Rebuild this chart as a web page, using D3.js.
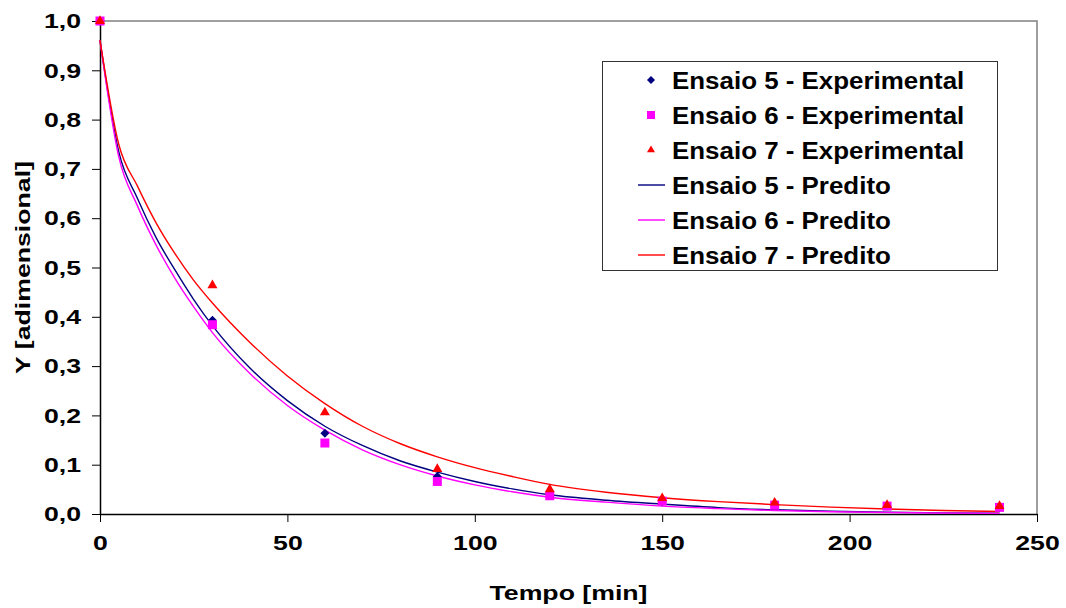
<!DOCTYPE html>
<html>
<head>
<meta charset="utf-8">
<script src="https://cdn.jsdelivr.net/npm/d3@7"></script>
<style>
  body { margin: 0; background: #fff; }
  text { font-family: "Liberation Sans", Arial, sans-serif; font-weight: bold; }
</style>
</head>
<body>
<div id="chart"></div>
<script>
// experimental points
const tempoExp = [0, 30, 60, 90, 120, 150, 180, 210, 240]
const ensaio5Exp = [1.0, 0.393, 0.164, 0.076, 0.040, 0.025, 0.019, 0.016, 0.013]
const ensaio6Exp = [1.0, 0.384, 0.144, 0.066, 0.037, 0.026, 0.018, 0.016, 0.0135]
const ensaio7Exp = [1.0, 0.464, 0.206, 0.091, 0.050, 0.032, 0.023, 0.018, 0.016]

// predicted curves
const tempoPred = [0, 5, 10, 15, 20, 25, 30, 40, 50, 60, 70, 80, 90, 100, 110, 120, 135, 150, 165, 180, 195, 210, 225, 240]
const ensaio5Pred = [0.961, 0.735, 0.640, 0.560, 0.495, 0.435, 0.382, 0.296, 0.230, 0.178, 0.139, 0.108, 0.085, 0.066, 0.051, 0.039, 0.028, 0.020, 0.013, 0.0085, 0.0055, 0.0035, 0.0022, 0.0015]
const ensaio6Pred = [0.961, 0.725, 0.625, 0.545, 0.478, 0.420, 0.368, 0.285, 0.220, 0.170, 0.130, 0.100, 0.077, 0.059, 0.045, 0.034, 0.024, 0.016, 0.011, 0.007, 0.0045, 0.003, 0.002, 0.0012]
const ensaio7Pred = [0.961, 0.750, 0.665, 0.590, 0.528, 0.474, 0.428, 0.348, 0.280, 0.224, 0.178, 0.143, 0.116, 0.094, 0.076, 0.060, 0.044, 0.033, 0.025, 0.019, 0.014, 0.010, 0.007, 0.005]

const xTicks = [0, 50, 100, 150, 200, 250]
const yTicks = [0, 0.1, 0.2, 0.3, 0.4, 0.5, 0.6, 0.7, 0.8, 0.9, 1.0]

const width = 1066
const height = 608
const margin = { top: 21, right: 29, bottom: 94, left: 100 }
const stretch = 1.27

const svg = d3.select('#chart').append('svg').attr('width', width).attr('height', height)

const x = d3.scaleLinear().domain([0, 250]).range([margin.left, width - margin.right])
const y = d3.scaleLinear().domain([0, 1]).range([height - margin.bottom, margin.top])

const locale = d3.formatLocale({ decimal: ',', thousands: '.', grouping: [3], currency: ['', ''] })
const fmt = locale.format('.1f')

// plot area border (top/right)
svg.append('path')
  .attr('d', `M${x(0)},${y(1)}H${x(250)}V${y(0)}`)
  .attr('fill', 'none')
  .attr('stroke', '#808080')
  .attr('stroke-width', 1.5)

const yAxis = svg.append('g')
  .attr('transform', `translate(${x(0)},0)`)
  .call(d3.axisLeft(y).tickValues(yTicks).tickFormat(fmt).tickSize(8).tickSizeOuter(0))
yAxis.select('.domain').attr('stroke', '#000').attr('stroke-width', 1.5)
yAxis.selectAll('.tick line').attr('stroke', '#000').attr('stroke-width', 1)
yAxis.selectAll('.tick text')
  .attr('x', 0)
  .attr('transform', `translate(-19,0) scale(${stretch},1)`)
  .attr('font-size', 21)
  .attr('fill', '#000')

const xAxis = svg.append('g')
  .attr('transform', `translate(0,${y(0)})`)
  .call(d3.axisBottom(x).tickValues(xTicks).tickFormat(d3.format('d')).tickSize(8).tickSizeOuter(0))
xAxis.select('.domain').attr('stroke', '#000').attr('stroke-width', 1.5)
xAxis.selectAll('.tick line').attr('stroke', '#000').attr('stroke-width', 1)
xAxis.selectAll('.tick text')
  .attr('y', 21)
  .attr('transform', `scale(${stretch},1)`)
  .attr('font-size', 21)
  .attr('fill', '#000')

// axis titles
svg.append('text')
  .attr('transform', `translate(${(x(0) + x(250)) / 2},${600}) scale(${stretch},1)`)
  .attr('text-anchor', 'middle')
  .attr('font-size', 21)
  .text('Tempo [min]')

svg.append('text')
  .attr('transform', `translate(30,${(y(0) + y(1)) / 2}) rotate(-90) scale(${stretch},1)`)
  .attr('text-anchor', 'middle')
  .attr('font-size', 21)
  .text('Y [adimensional]')

const series = [
  { name: 'Ensaio 5', exp: ensaio5Exp, pred: ensaio5Pred, color: '#000080', symbol: d3.symbolDiamond2 },
  { name: 'Ensaio 6', exp: ensaio6Exp, pred: ensaio6Pred, color: '#FF00FF', symbol: d3.symbolSquare2 },
  { name: 'Ensaio 7', exp: ensaio7Exp, pred: ensaio7Pred, color: '#FF0000', symbol: d3.symbolTriangle2 }
]

const line = d3.line().x((d) => x(d[0])).y((d) => y(d[1])).curve(d3.curveMonotoneX)

// predicted lines
series.forEach((s) => {
  svg.append('path')
    .datum(tempoPred.map((t, i) => [t, s.pred[i]]))
    .attr('fill', 'none')
    .attr('stroke', s.color)
    .attr('stroke-width', 1.4)
    .attr('d', line)
})

// marker of a given pixel width
const sym = d3.symbol()
function symPath(s, w) {
  const k = s.symbol === d3.symbolDiamond2 ? 1.2525 : s.symbol === d3.symbolSquare2 ? 0.886 : 1.182
  return sym.type(s.symbol).size((w / k) * (w / k))()
}
const markerW = { 'Ensaio 5': 9, 'Ensaio 6': 9, 'Ensaio 7': 10 }

// experimental markers
series.forEach((s) => {
  svg.append('g')
    .selectAll('path')
    .data(tempoExp.map((t, i) => [t, s.exp[i]]))
    .join('path')
    .attr('transform', (d) => `translate(${x(d[0])},${y(d[1])})`)
    .attr('d', symPath(s, markerW[s.name]))
    .attr('fill', s.color)
})

// legend
const legend = svg.append('g')
legend.append('rect')
  .attr('x', 602.5).attr('y', 61.5)
  .attr('width', 395).attr('height', 209)
  .attr('fill', '#fff')
  .attr('stroke', '#333')
  .attr('stroke-width', 1)

const legendItems = [
  ...series.map((s) => ({ label: `${s.name} - Experimental`, s, kind: 'marker' })),
  ...series.map((s) => ({ label: `${s.name} - Predito`, s, kind: 'line' }))
]
const rowY = d3.scaleLinear().domain([0, 5]).range([80, 255])

legendItems.forEach((it, i) => {
  const cy = rowY(i)
  if (it.kind === 'marker') {
    legend.append('path')
      .attr('transform', `translate(651,${cy})`)
      .attr('d', symPath(it.s, 8))
      .attr('fill', it.s.color)
  } else {
    legend.append('line')
      .attr('x1', 638).attr('x2', 665)
      .attr('y1', cy).attr('y2', cy)
      .attr('stroke', it.s.color)
      .attr('stroke-width', 1.4)
  }
  legend.append('text')
    .attr('transform', `translate(672,${cy}) scale(1.08,1)`)
    .attr('dy', '0.36em')
    .attr('font-size', 24)
    .text(it.label)
})
</script>
</body>
</html>
